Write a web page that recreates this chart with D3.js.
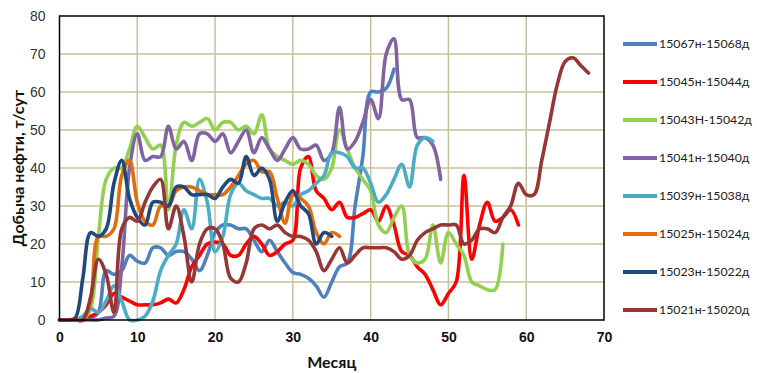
<!DOCTYPE html>
<html lang="ru">
<head>
<meta charset="UTF-8">
<title>Добыча нефти</title>
<style>
  body { margin: 0; background: #fff; }
  svg { display: block; font-family: Lato, "Open Sans", sans-serif; }
  .grid line { stroke: #c8c09c; stroke-width: 1.5; }
  .ytick text { font-size: 14px; fill: #333; }
  .xtick text { font-size: 14px; font-weight: bold; fill: #111; }
  .legend text { font-size: 12.3px; fill: #222; }
</style>
<script src="https://d3js.org/d3.v7.min.js"></script>
</head>
<body>
<div id="chart"></div>
<script>
// series names (legend order), values by month starting at 0
const seriesNames = ["15067н-15068д", "15045н-15044д", "15043Н-15042д", "15041н-15040д",
                     "15039н-15038д", "15025н-15024д", "15023н-15022д", "15021н-15020д"];

const s15067 = [0,0,0,0,0.5,2,13,12,13,17,15.5,15,19,19,17,18,18,16,13,17,23,25,25,24,24,21,18,21,18,15,12.5,12,11,9,6,10,14,15,30,43,60,60,61,66];
const s15045 = [0,0,0,0,1,2,4,7,6,5,4,4,4,4.5,5.5,4.5,8,14,17,20,20.5,20,17,17,20,22,20,17,18,20,21,40,43,34,32,29,31,27,27,28,29,26,30,25,18,17,14,12,8,4,7,10,38,16,25,31,26,27,29,25];
const s15043 = [0,0,0,0,3,22,37,40,40,45,51,48,45,46,29,46,52,51,52,53,50,52,52,50,51,49,54,45,43,42,41,42,41,38,37,40,50,45,40,37,34,25,23,27,30,17,15,16,25,15,23,20,17,10,9,8,8,20];
const s15041 = [0,0,0,0,0,0,0.5,1,14,40,49,42,43,43,51,45,47,42,49,49,47,49,44,47,50,44,48,45,42,45,48,45,45,46,42,44,56,45,47,52,58,53,70,74,58,58,48,48,46,37];
const s15039 = [0,0,0,1,3,2,5,9,5,0,0,1,5,13,17,20,29,24,37,31,18,22,33,36,34,33,32,32,30,31,30,33,34,36,38,44,44,43,40,40,36,31,33,37,41,35,46,48,47];
const s15025 = [0,0,0,0,5,22,22,24,38,42,31,26,25,30,30,34,35,35,34,33,33,33,35,38,41,42,39,39,32,25.5,33,32,30,23,20,23,22];
const s15023 = [0,0,0.5,11,23,22,24,36,42,32,27,25,31,31,30,35,35,33,33,33,32,35,37,36,43,38,40,37,26,31,34,30,28,20,23,22];
const s15021 = [0,0,0,0,6,16,12,2,24,27,26,31,35,37,24,30,22,10,20,24,24,20,11,10,15,24,25,24,25,23,22,22,21,18,13,16,19,15,17,19,19,19,19,18,16,17,21,23,24,25,25,25,20,21,24,24,23,27,30,36,33,33,42,52,62,68,69,67,65];

const seriesValues = [s15067, s15045, s15043, s15041, s15039, s15025, s15023, s15021];

const xTicks = [0, 10, 20, 30, 40, 50, 60, 70];
const yTicks = [0, 10, 20, 30, 40, 50, 60, 70, 80];

const colors = ["#4f81bd", "#ff0000", "#92d050", "#8064a2", "#4bacc6", "#e46c0a", "#1f497d", "#953735"];

const W = 757, H = 373;
const svg = d3.select("#chart").append("svg").attr("width", W).attr("height", H);

const x = d3.scaleLinear().domain([0, 70]).range([59.5, 604]);
const y = d3.scaleLinear().domain([0, 80]).range([320, 16]);

// grid
const grid = svg.append("g").attr("class", "grid");
grid.selectAll(".gx").data(xTicks.slice(1, -1)).enter().append("line")
  .attr("x1", d => x(d)).attr("x2", d => x(d)).attr("y1", y(0)).attr("y2", y(80));
grid.selectAll(".gy").data(yTicks.slice(1, -1)).enter().append("line")
  .attr("x1", x(0)).attr("x2", x(70)).attr("y1", d => y(d)).attr("y2", d => y(d));

// axes labels
const yAxis = svg.append("g").attr("class", "ytick").attr("transform", `translate(${x(0) - 14},0)`)
  .call(d3.axisLeft(y).tickValues(yTicks).tickSize(0).tickPadding(0));
yAxis.select(".domain").remove();

const xAxis = svg.append("g").attr("class", "xtick").attr("transform", `translate(0,${y(0) + 12})`)
  .call(d3.axisBottom(x).tickValues(xTicks).tickSize(0).tickPadding(0));
xAxis.select(".domain").remove();
xAxis.selectAll("text").attr("dy", "0.71em");

// lines
const line = d3.line()
  .x((d, i) => x(i))
  .y(d => y(d))
  .curve(d3.curveCatmullRom.alpha(0.5));

svg.append("g").selectAll("path").data(seriesValues).enter().append("path")
  .attr("d", d => line(d))
  .attr("fill", "none")
  .attr("stroke", (d, i) => colors[i])
  .attr("stroke-width", 3.6)
  .attr("stroke-linejoin", "round")
  .attr("stroke-linecap", "round");

// frame
svg.append("rect")
  .attr("x", x(0)).attr("y", y(80))
  .attr("width", x(70) - x(0)).attr("height", y(0) - y(80))
  .attr("fill", "none").attr("stroke", "#000").attr("stroke-width", 1.5);

// titles
svg.append("text")
  .attr("x", (x(0) + x(70)) / 2).attr("y", 368)
  .attr("text-anchor", "middle")
  .style("font-size", "16px").style("font-weight", "bold").style("fill", "#111")
  .text("Месяц");

svg.append("text")
  .attr("transform", `translate(24,${(y(0) + y(80)) / 2}) rotate(-90)`)
  .attr("text-anchor", "middle")
  .style("font-size", "16px").style("font-weight", "bold").style("fill", "#111")
  .text("Добыча нефти, т/сут");

// legend
const legend = svg.append("g").attr("class", "legend");
const items = legend.selectAll("g").data(seriesNames).enter().append("g")
  .attr("transform", (d, i) => `translate(623,${44 + i * 38})`);
items.append("line")
  .attr("x1", 0).attr("x2", 34).attr("y1", 0).attr("y2", 0)
  .attr("stroke", (d, i) => colors[i]).attr("stroke-width", 4);
items.append("text")
  .attr("x", 36).attr("y", 0).attr("dy", "0.35em")
  .text(d => d);
</script>
</body>
</html>
